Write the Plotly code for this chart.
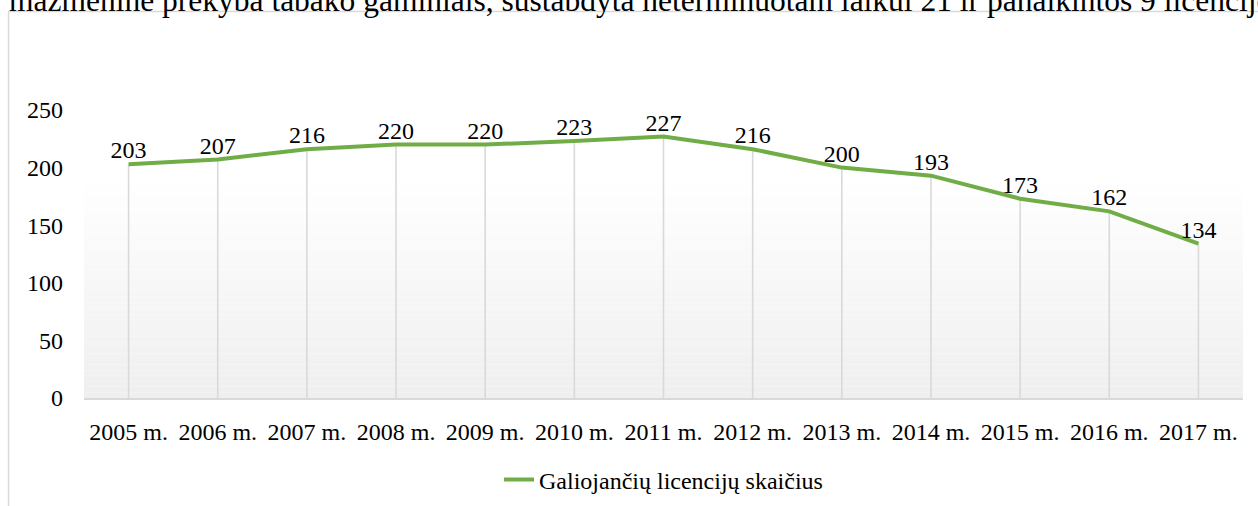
import plotly.graph_objects as go

years = ["2005 m.", "2006 m.", "2007 m.", "2008 m.", "2009 m.", "2010 m.", "2011 m.",
         "2012 m.", "2013 m.", "2014 m.", "2015 m.", "2016 m.", "2017 m."]
licenses = [203, 207, 216, 220, 220, 223, 227, 216, 200, 193, 173, 162, 134]
series_name = "Galiojančių licencijų skaičius"
y_ticks = [0, 50, 100, 150, 200, 250]
top_text = "mažmeninė prekyba tabako gaminiais, sustabdyta neterminuotam laikui 21 ir panaikintos 9 licencijos"

W, H = 1258, 506
L, R, T, B = 83.5, 15, 110, 108
pw, ph = W - L - R, H - T - B

def px_x(p):
    return (p - L) / pw

def px_y(p):
    return (H - B - p) / ph

FONT = "Liberation Serif, Times New Roman, serif"

fig = go.Figure()

# drop lines
fig.add_trace(go.Scatter(
    x=years, y=licenses, mode="markers", marker=dict(size=0.1, opacity=0),
    error_y=dict(type="data", symmetric=False, array=[0] * len(licenses),
                 arrayminus=licenses, color="#d9d9d9", thickness=1.6, width=0),
    showlegend=False, hoverinfo="skip"))

fig.add_trace(go.Scatter(
    x=years, y=licenses, mode="lines+text", name=series_name,
    line=dict(color="#70ad47", width=4),
    text=[str(v) for v in licenses], textposition="top center",
    textfont=dict(family=FONT, size=24, color="#000000"),
    cliponaxis=False))

# gradient background of plot area
shapes = []
n = 40
top_px, bot_px = 175, H - B
for i in range(n):
    y0 = bot_px - (bot_px - top_px) * i / n
    y1 = bot_px - (bot_px - top_px) * (i + 1) / n
    t = i / (n - 1)
    c = int(round(239 + (255 - 239) * t))
    shapes.append(dict(type="rect", xref="paper", yref="paper",
                       x0=0, x1=1, y0=px_y(y0), y1=px_y(y1),
                       fillcolor=f"rgb({c},{c},{c})", line=dict(width=0),
                       layer="below"))
# outer frame
shapes.append(dict(type="rect", xref="paper", yref="paper",
                   x0=px_x(8), x1=px_x(1300), y0=px_y(11.5), y1=px_y(560),
                   line=dict(color="#d9d9d9", width=1.5), fillcolor="rgba(0,0,0,0)",
                   layer="below"))

fig.update_layout(
    width=W, height=H,
    margin=dict(l=L, r=R, t=T, b=B, pad=0, autoexpand=False),
    paper_bgcolor="white", plot_bgcolor="rgba(0,0,0,0)",
    font=dict(family=FONT, size=24, color="#000000"),
    shapes=shapes,
    showlegend=True,
    legend=dict(orientation="h", x=0.5, xanchor="center", y=px_y(480), yanchor="middle",
                font=dict(family=FONT, size=24, color="#000000"),
                bgcolor="rgba(0,0,0,0)"),
    annotations=[dict(text=top_text, xref="paper", yref="paper",
                      x=px_x(6), y=px_y(20), xanchor="left", yanchor="bottom",
                      showarrow=False,
                      font=dict(family=FONT, size=31.5, color="#000000"))],
)

fig.update_xaxes(
    type="category", range=[-0.5, len(years) - 0.5],
    showgrid=False, zeroline=False, automargin=False,
    showline=True, linecolor="#d9d9d9", linewidth=1.5,
    ticks="", ticklabelstandoff=11,
    tickfont=dict(family=FONT, size=24, color="#000000"),
    fixedrange=True)

fig.update_yaxes(
    range=[0, 250], tickvals=y_ticks, ticktext=[str(v) for v in y_ticks],
    showgrid=False, zeroline=False, showline=False, automargin=False,
    ticks="", ticklabelstandoff=20,
    tickfont=dict(family=FONT, size=24, color="#000000"),
    fixedrange=True)

fig.write_html("out.html", config={"displayModeBar": False},
               post_script="document.body.style.margin='0';document.body.style.overflow='hidden';")
